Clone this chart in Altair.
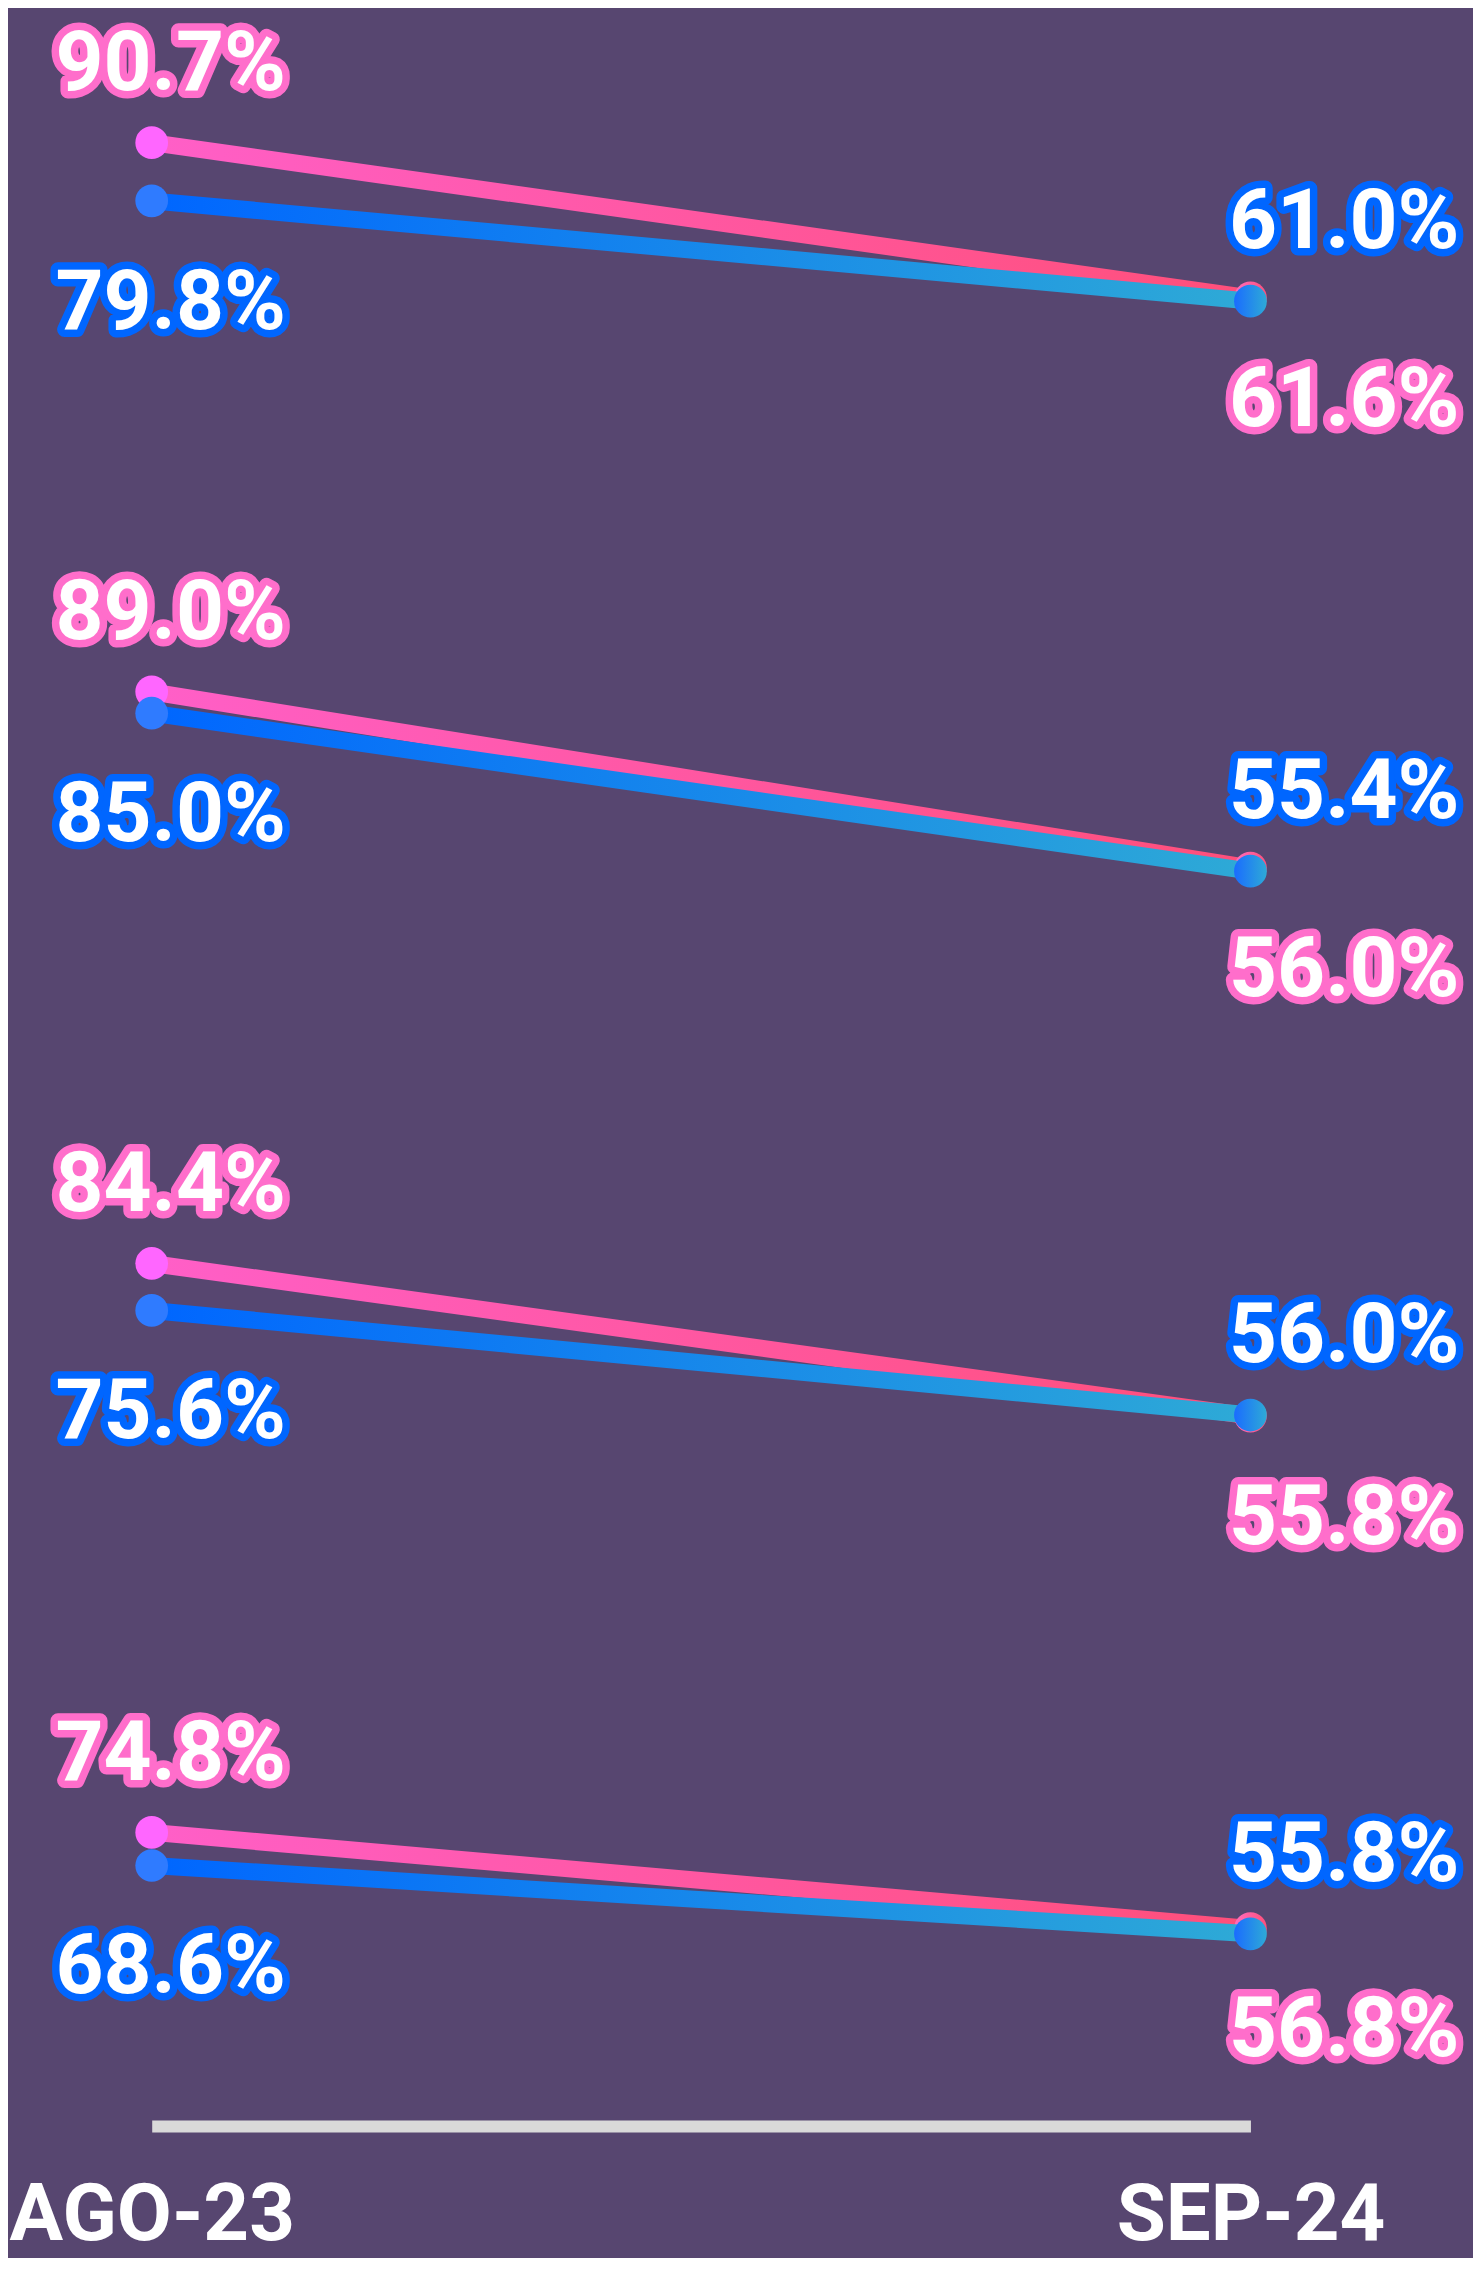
import altair as alt
import pandas as pd

# ---- data ----
periods = ["AGO-23", "SEP-24"]
pink_start = [90.7, 89.0, 84.4, 74.8]
pink_end = [61.6, 56.0, 55.8, 56.8]
blue_start = [79.8, 85.0, 75.6, 68.6]
blue_end = [61.0, 55.4, 56.0, 55.8]

# ---- layout / style ----
y_domains = [[16.4, 115.5], [18.5, 117.6], [21.9, 121.0], [19.8, 118.9]]
PANEL_H = 530
WIDTH = 1465
X_RANGE = [141, 1242]
BG = "#574670"
PINK = "#ff6ecb"
BLUE = "#0066ff"
FONT = "Roboto, sans-serif"
LABEL_SIZE = 84


def grad(c0, c1):
    return alt.LinearGradient(
        gradient="linear",
        stops=[alt.GradientStop(color=c0, offset=0), alt.GradientStop(color=c1, offset=1)],
        x1=0, x2=1, y1=0, y2=0,
    )


LINE_COL = {"rosa": grad("#ff5fc8", "#ff4f7a"), "azul": grad("#0066ff", "#2eaad6")}
POINT_COL = {
    ("rosa", "AGO-23"): "#ff66ff",
    ("rosa", "SEP-24"): grad("#ff6ec0", "#ff4f7a"),
    ("azul", "AGO-23"): "#2f7bff",
    ("azul", "SEP-24"): grad("#1a6cff", "#2eaad6"),
}
LABEL_COL = {"rosa": PINK, "azul": BLUE}
# (dx, dy) of the value labels
LABEL_OFF = {
    ("rosa", "AGO-23"): (19, -53),
    ("azul", "AGO-23"): (19, 128),
    ("rosa", "SEP-24"): (94, 128),
    ("azul", "SEP-24"): (94, -53),
}

panels = []
for i in range(4):
    rows = []
    for s, vals in (("rosa", (pink_start[i], pink_end[i])), ("azul", (blue_start[i], blue_end[i]))):
        for p, v in zip(periods, vals):
            rows.append({"serie": s, "periodo": p, "valor": v})
    df = pd.DataFrame(rows)
    base = alt.Chart(df).transform_calculate(label="format(datum.valor, '.1f') + '%'")

    if i == 3:
        x_axis = alt.Axis(
            title=None, domain=True, domainColor="#d9d9d9", domainWidth=12,
            ticks=False, tickSize=0, grid=False, labelAngle=0, labelLimit=0,
            labelFont=FONT, labelFontSize=80, labelFontWeight="bold",
            labelColor="white", labelPadding=114, labelBaseline="alphabetic",
            labelAlign="center",
        )
    else:
        x_axis = None
    x = alt.X("periodo:N",
              scale=alt.Scale(type="point", domain=periods, range=X_RANGE, padding=0),
              axis=x_axis)
    y = alt.Y("valor:Q", scale=alt.Scale(domain=y_domains[i], nice=False, zero=False), axis=None)

    layers = []
    for s in ("rosa", "azul"):
        sb = base.transform_filter(alt.datum.serie == s)
        layers.append(sb.mark_line(color=LINE_COL[s], strokeWidth=17).encode(x=x, y=y))
        for p in periods:
            pb = sb.transform_filter(alt.datum.periodo == p)
            layers.append(
                pb.mark_circle(size=1075, opacity=1, color=POINT_COL[(s, p)]).encode(x=x, y=y)
            )
    for s in ("rosa", "azul"):
        for p in periods:
            dx, dy = LABEL_OFF[(s, p)]
            tb = base.transform_filter((alt.datum.serie == s) & (alt.datum.periodo == p))
            common = dict(font=FONT, fontSize=LABEL_SIZE, fontWeight="bold",
                          align="center", baseline="alphabetic", dx=dx, dy=dy)
            layers.append(
                tb.mark_text(fill=LABEL_COL[s], stroke=LABEL_COL[s], strokeWidth=15,
                             strokeJoin="round", **common).encode(x=x, y=y, text="label:N")
            )
            layers.append(
                tb.mark_text(fill="white", **common).encode(x=x, y=y, text="label:N")
            )
    panels.append(alt.layer(*layers).properties(width=WIDTH, height=PANEL_H))

chart = (
    alt.vconcat(*panels, spacing=0)
    .resolve_scale(x="independent", y="independent")
    .properties(padding={"left": 0, "top": 0, "right": 0, "bottom": 0}, background=BG)
    .configure_view(stroke=None)
)

chart.save("out.html", embed_options={"renderer": "svg", "actions": False})
